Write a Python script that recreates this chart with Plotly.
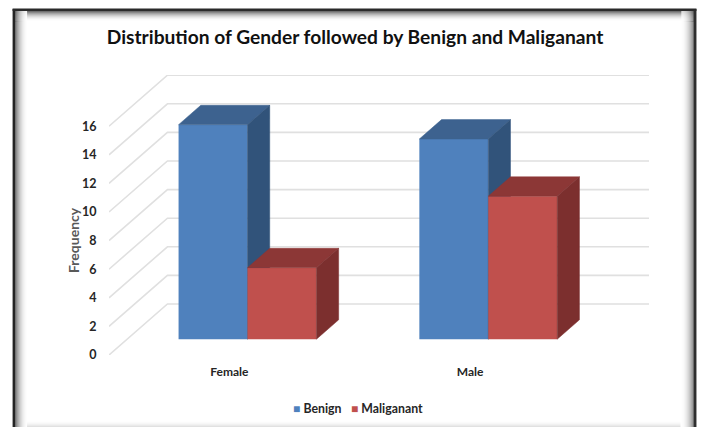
import plotly.graph_objects as go

categories = ["Female", "Male"]
benign = [15, 14]
maliganant = [5, 10]
y_ticks = [0, 2, 4, 6, 8, 10, 12, 14, 16]

W, H = 702, 427
L, R, T, B = 109, 649.5, 75, 355
x_unit = 241.0
y_unit = 14.3
x_min = -0.5
x_max = x_min + (R - L) / x_unit
y_max = (B - T) / y_unit
depth_x = 58.5 / x_unit
depth_y = 51 / y_unit
d0, d1 = 0.31, 0.69
bar_w = 69 / x_unit
BLUE, RED = "#4F81BD", "#C0504D"


def px(x):
    return (x - L) / (R - L)


def py(y):
    return (B - y) / (B - T)


def box_faces(left, value):
    x0 = left + depth_x * d0
    x1 = x0 + bar_w
    ox = depth_x * (d1 - d0)
    oy = depth_y * (d1 - d0)
    b = depth_y * d0
    top = value + b
    top_face = ([x0, x1, x1 + ox, x0 + ox, x0], [top, top, top + oy, top + oy, top])
    side_face = ([x1, x1 + ox, x1 + ox, x1, x1], [top, top + oy, b + oy, b, top])
    return top_face, side_face


fig = go.Figure()


def add_series(name, values, sign, front, top_c, side_c, xa, ya):
    lefts = [i - bar_w if sign < 0 else i for i in range(len(values))]
    fig.add_trace(go.Bar(
        x=[l + bar_w / 2 + depth_x * d0 for l in lefts], y=values,
        base=[depth_y * d0] * len(values), width=bar_w, name=name,
        marker=dict(color=front, line=dict(width=0)),
        xaxis=xa, yaxis=ya, showlegend=False,
    ))
    for l, v in zip(lefts, values):
        tf, sf = box_faces(l, v)
        for (fx, fy), c in ((tf, top_c), (sf, side_c)):
            fig.add_trace(go.Scatter(
                x=fx, y=fy, mode="lines", fill="toself", fillcolor=c,
                line=dict(width=0.5, color=c), showlegend=False,
                hoverinfo="skip", xaxis=xa, yaxis=ya,
            ))


add_series("Benign", benign, -1, BLUE, "#3D628F", "#31537A", "x", "y")
add_series("Maliganant", maliganant, 1, RED, "#8C3736", "#7C2F2E", "x2", "y2")

shapes = []


def strip(x0, x1, y0, y1, col):
    shapes.append(dict(type="rect", layer="below", xref="paper", yref="paper",
                       x0=px(x0), x1=px(x1), y0=py(y1), y1=py(y0),
                       line=dict(width=0), fillcolor=col))


def fade(level):
    g = int(level)
    return f"rgb({g},{g},{g})"


# soft inner shadow of the picture frame
steps = 12
for i in range(steps):
    g = 255 - (255 - 110) * ((steps - i) / steps) ** 2
    strip(15 + i, 16 + i, 10, 430, fade(g))        # left
    strip(693 - i, 694 - i, 10, 430, fade(g))      # right
for i in range(10):
    g = 255 - (255 - 110) * ((10 - i) / 10) ** 2
    strip(15, 694, 11 + i, 12 + i, fade(g))        # top (drawn over sides below)
# restore the fade in the corners
for i in range(steps):
    g = 255 - (255 - 110) * ((steps - i) / steps) ** 2
    strip(15 + i, 16 + i, 11, 22, fade(g))
    strip(693 - i, 694 - i, 11, 22, fade(g))
for i in range(6):
    g = 255 - 30 * ((i + 1) / 6) ** 2
    strip(27, 681, 421 + i, 422 + i, fade(g))      # bottom
# dark border on left, right, top
strip(12.5, 15, 9, 430, "#242424")
strip(694, 697, 9, 430, "#2E2E2E")
strip(12.5, 697, 8.5, 11, "#2A2A2A")

for t in y_ticks:
    shapes.append(dict(
        type="path", layer="below", xref="x", yref="y",
        path=f"M{x_min},{t} L{x_min + depth_x},{t + depth_y} L{x_max},{t + depth_y}",
        line=dict(color="#E0E0E0", width=1.6),
    ))

font = "Lato"
axis_common = dict(showgrid=False, zeroline=False, showline=False)
annotations = [
    dict(text="Frequency", textangle=-90, xref="paper", yref="paper",
         x=px(73), y=py(240), xanchor="center", yanchor="middle", showarrow=False,
         font=dict(size=14, color="#595959", family=font, weight="bold")),
    dict(text=(f'<span style="color:{BLUE};font-size:12px">■</span> <b>Benign</b>'
               f'&nbsp;&nbsp;&nbsp;<span style="color:{RED};font-size:12px">■</span> <b>Maliganant</b>'),
         xref="paper", yref="paper", x=px(358), y=py(408), xanchor="center", yanchor="middle",
         showarrow=False, font=dict(size=12.3, color="#262626", family=font)),
]

fig.update_layout(
    width=W, height=H, paper_bgcolor="white", plot_bgcolor="rgba(0,0,0,0)",
    margin=dict(l=L, r=W - R, t=T, b=H - B, autoexpand=False),
    font=dict(family=font), showlegend=False,
    title=dict(text="<b>Distribution of Gender followed by Benign and Maliganant</b>",
               x=355 / W, xanchor="center", y=1 - 37.5 / H, yanchor="middle",
               font=dict(size=19.2, color="#111111", family=font)),
    barmode="overlay", shapes=shapes, annotations=annotations,
    xaxis=dict(range=[x_min, x_max], tickmode="array", tickvals=[0, 1], ticktext=categories,
               ticks="outside", ticklen=6, tickcolor="rgba(0,0,0,0)",
               tickfont=dict(size=12, color="#262626", family=font, weight="bold"), **axis_common),
    yaxis=dict(range=[0, y_max], tickmode="array", tickvals=y_ticks, ticks="outside", ticklen=9,
               tickcolor="rgba(0,0,0,0)", tickfont=dict(size=12.5, color="#262626", family=font, weight="bold"),
               **axis_common),
    xaxis2=dict(range=[x_min, x_max], overlaying="x", visible=False),
    yaxis2=dict(range=[0, y_max], overlaying="y", visible=False),
)

fig.write_html("out.html", config={"displayModeBar": False},
               post_script="document.body.style.margin='0';document.body.style.overflow='hidden';")
